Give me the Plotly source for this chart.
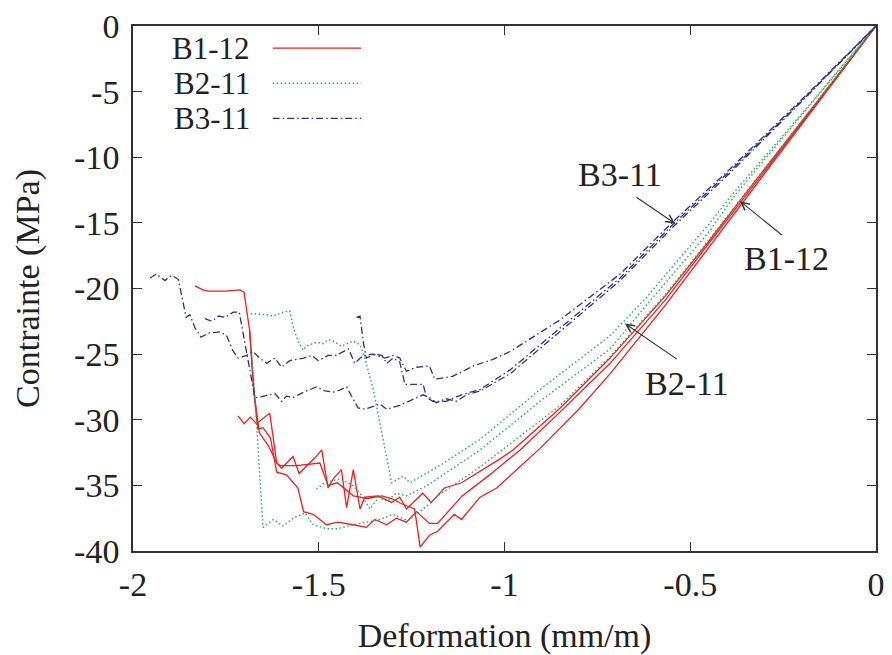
import plotly.graph_objects as go

# ---------------- data ----------------
series_names = ["B1-12", "B2-11", "B3-11"]

# B1-12 (red, solid) - three specimens
b1_12_1_x = [-1.833,-1.812,-1.797,-1.751,-1.712,-1.701,-1.686,-1.672,-1.664,-1.650,-1.630,-1.613,-1.587,-1.556,-1.541,-1.515,-1.479,-1.449,-1.407,-1.372,-1.349,-1.317,-1.291,-1.264,-1.237,-1.202,-1.180,-1.114,-1.040,-0.958,-0.850,-0.716,-0.568,-0.450,-0.366,-0.200,0.0]
b1_12_1_y = [-19.8,-20.1,-20.2,-20.2,-20.1,-20.3,-23.2,-28.6,-30.7,-30.6,-31.4,-34.0,-34.2,-35.2,-37.0,-37.2,-38.0,-37.8,-38.0,-38.2,-37.6,-38.0,-37.5,-37.8,-37.0,-37.9,-37.9,-35.8,-34.2,-32.3,-29.4,-25.7,-20.9,-16.6,-13.5,-7.4,0.0]

b1_12_2_x = [-1.717,-1.701,-1.684,-1.668,-1.632,-1.613,-1.600,-1.569,-1.553,-1.510,-1.492,-1.486,-1.475,-1.461,-1.439,-1.425,-1.407,-1.389,-1.376,-1.340,-1.304,-1.282,-1.264,-1.220,-1.197,-1.162,-1.116,-1.013,-0.977,-0.850,-0.716,-0.568,-0.450,-0.366,-0.200,0.0]
b1_12_2_y = [-29.7,-30.3,-29.8,-30.3,-29.5,-33.3,-33.7,-32.8,-34.1,-32.9,-32.3,-33.3,-35.2,-34.5,-33.8,-36.7,-33.8,-36.8,-35.9,-35.8,-36.3,-35.9,-36.8,-35.6,-36.3,-35.2,-34.8,-33.0,-32.3,-29.1,-25.3,-20.6,-16.4,-13.3,-7.3,0.0]

b1_12_3_x = [-1.686,-1.676,-1.660,-1.635,-1.613,-1.604,-1.559,-1.510,-1.497,-1.475,-1.450,-1.407,-1.370,-1.330,-1.304,-1.277,-1.242,-1.227,-1.202,-1.180,-1.135,-1.116,-1.066,-1.021,-0.905,-0.800,-0.716,-0.568,-0.450,-0.366,-0.200,0.0]
b1_12_3_y = [-23.2,-27.5,-31.0,-32.0,-33.3,-33.5,-33.5,-33.3,-33.3,-35.0,-34.8,-35.8,-36.0,-35.8,-36.0,-36.4,-36.8,-39.7,-38.8,-38.5,-37.2,-37.6,-35.9,-35.2,-32.2,-29.2,-26.5,-21.3,-16.9,-13.7,-7.5,0.0]

# B2-11 (green, dotted)
b2_11_1_x = [-1.694,-1.640,-1.623,-1.596,-1.578,-1.569,-1.556,-1.542,-1.534,-1.506,-1.488,-1.475,-1.461,-1.439,-1.407,-1.389,-1.376,-1.354,-1.326,-1.304,-1.273,-1.255,-1.175,-1.066,-0.900,-0.716,-0.622,-0.450,-0.380,-0.200,0.0]
b2_11_1_y = [-21.9,-22.0,-22.1,-21.8,-21.7,-22.9,-24.0,-24.7,-24.4,-24.1,-24.2,-23.9,-24.0,-24.4,-24.0,-24.3,-25.3,-27.6,-31.6,-34.8,-34.3,-34.8,-33.5,-31.5,-27.6,-23.6,-20.8,-15.1,-12.6,-6.7,0.0]

b2_11_2_x = [-1.683,-1.675,-1.666,-1.659,-1.650,-1.622,-1.596,-1.569,-1.537,-1.515,-1.479,-1.449,-1.407,-1.370,-1.335,-1.300,-1.260,-1.210,-1.175,-1.066,-0.850,-0.716,-0.568,-0.450,-0.366,-0.200,0.0]
b2_11_2_y = [-24.5,-27.0,-31.0,-34.5,-38.2,-37.6,-38.1,-37.5,-37.1,-38.0,-38.3,-38.3,-38.0,-37.8,-37.6,-37.2,-37.7,-36.6,-35.7,-33.6,-28.9,-25.2,-20.5,-16.3,-13.25,-7.25,0.0]

b2_11_3_x = [-1.506,-1.484,-1.443,-1.408,-1.389,-1.362,-1.339,-1.317,-1.291,-1.264,-1.207,-1.175,-1.066,-0.900,-0.716,-0.610,-0.450,-0.380,-0.200,0.0]
b2_11_3_y = [-35.3,-34.8,-34.5,-35.0,-35.6,-36.8,-35.9,-36.2,-35.6,-35.8,-35.0,-34.4,-32.3,-28.5,-24.6,-21.0,-15.7,-12.9,-6.8,0.0]

# B3-11 (blue, dash-dot)
b3_11_1_x = [-1.954,-1.937,-1.914,-1.896,-1.878,-1.857,-1.847,-1.833,-1.817,-1.797,-1.766,-1.748,-1.730,-1.717,-1.694,-1.677,-1.659,-1.640,-1.618,-1.600,-1.578,-1.541,-1.519,-1.501,-1.475,-1.453,-1.420,-1.403,-1.380,-1.354,-1.322,-1.300,-1.282,-1.264,-1.237,-1.202,-1.188,-1.140,-1.084,-1.031,-0.985,-0.851,-0.689,-0.546,-0.393,-0.200,0.0]
b3_11_1_y = [-19.2,-18.9,-19.4,-19.0,-19.3,-22.2,-22.0,-23.0,-23.7,-23.4,-23.3,-23.6,-24.8,-25.3,-25.1,-24.8,-25.3,-25.7,-25.3,-26.0,-25.5,-25.3,-25.1,-25.5,-25.1,-25.1,-24.6,-25.7,-25.1,-25.0,-25.3,-25.1,-25.3,-26.3,-26.0,-25.9,-26.9,-26.7,-25.9,-25.4,-24.8,-22.4,-18.9,-14.9,-10.9,-5.6,0.0]

b3_11_2_x = [-1.806,-1.788,-1.770,-1.752,-1.730,-1.714,-1.703,-1.690,-1.672,-1.664,-1.636,-1.618,-1.600,-1.587,-1.569,-1.541,-1.506,-1.484,-1.457,-1.425,-1.394,-1.376,-1.335,-1.317,-1.282,-1.219,-1.197,-1.184,-1.157,-1.130,-1.102,-1.065,-0.985,-0.851,-0.689,-0.546,-0.393,-0.200,0.0]
b3_11_2_y = [-22.3,-22.5,-22.1,-22.2,-21.8,-21.8,-23.5,-25.5,-28.3,-28.3,-28.1,-28.0,-28.6,-28.2,-28.3,-27.9,-27.5,-27.8,-27.9,-27.5,-29.1,-29.2,-28.8,-29.2,-28.9,-28.1,-28.4,-28.7,-28.4,-28.6,-28.1,-27.8,-26.5,-23.3,-19.4,-15.3,-11.2,-5.75,0.0]

b3_11_3_x = [-1.398,-1.389,-1.380,-1.372,-1.349,-1.330,-1.317,-1.300,-1.282,-1.268,-1.219,-1.210,-1.193,-1.157,-1.116,-1.066,-0.985,-0.851,-0.689,-0.546,-0.393,-0.200,0.0]
b3_11_3_y = [-22.2,-22.1,-24.1,-25.3,-25.0,-25.1,-25.7,-25.3,-25.6,-27.3,-27.3,-28.3,-28.6,-28.6,-28.1,-27.7,-26.2,-23.0,-19.2,-15.1,-11.05,-5.7,0.0]

x_tick_vals = [-2, -1.5, -1, -0.5, 0]
x_tick_text = ["-2", "-1.5", "-1", "-0.5", "0"]
y_tick_vals = [0, -5, -10, -15, -20, -25, -30, -35, -40]
y_tick_text = ["0", "-5", "-10", "-15", "-20", "-25", "-30", "-35", "-40"]

# labels with arrows: (text, text_x, text_y, tail_x, tail_y, tip_x, tip_y)
label_b3 = ["B3-11", -0.689, -11.3, -0.649, -12.97, -0.541, -15.05]
label_b1 = ["B1-12", -0.241, -17.73, -0.2495, -16.02, -0.366, -13.35]
label_b2 = ["B2-11", -0.509, -27.25, -0.532, -25.46, -0.676, -22.67]

# ---------------- styles ----------------
FONT = "'Liberation Serif', 'Times New Roman', Times, serif"
RED = "#f01e1e"
GREEN = "#1fae5a"
BLUE = "#2e2e96"
styles = {
    "B1-12": dict(color=RED, width=1.3, dash="solid"),
    "B2-11": dict(color=GREEN, width=1.4, dash="1.5px,2.5px"),
    "B3-11": dict(color=BLUE, width=1.3, dash="7px,3px,1.5px,3px"),
}

curves = {
    "B1-12": [(b1_12_1_x, b1_12_1_y), (b1_12_2_x, b1_12_2_y), (b1_12_3_x, b1_12_3_y)],
    "B2-11": [(b2_11_1_x, b2_11_1_y), (b2_11_2_x, b2_11_2_y), (b2_11_3_x, b2_11_3_y)],
    "B3-11": [(b3_11_1_x, b3_11_1_y), (b3_11_2_x, b3_11_2_y), (b3_11_3_x, b3_11_3_y)],
}

fig = go.Figure()
for name in series_names:
    for i, (xs, ys) in enumerate(curves[name]):
        fig.add_trace(go.Scatter(
            x=xs, y=ys, mode="lines", name=name, legendgroup=name,
            showlegend=False, line=styles[name], hoverinfo="skip"))

TXT = dict(family=FONT, size=34, color="#222")
KEY_TXT = dict(family=FONT, size=31, color="#222")

annotations = []
for lab in (label_b3, label_b1, label_b2):
    txt, tx, ty, ax, ay, px, py = lab
    annotations.append(dict(x=tx, y=ty, xref="x", yref="y", text=txt, showarrow=False,
                            font=TXT))
    annotations.append(dict(x=px, y=py, xref="x", yref="y", ax=ax, ay=ay,
                            axref="x", ayref="y", text="", showarrow=True,
                            arrowhead=5, arrowsize=1.4, arrowwidth=1.1,
                            arrowcolor="#333"))

# key (gnuplot style: text on the left, sample line on the right)
key_rows = [0.958, 0.891, 0.824]
shapes = []
for name, yy in zip(series_names, key_rows):
    annotations.append(dict(x=0.160, y=yy, xref="paper", yref="paper", text=name,
                            showarrow=False, xanchor="right", yanchor="middle",
                            font=KEY_TXT))
    st = styles[name]
    shapes.append(dict(type="line", xref="paper", yref="paper", x0=0.188, x1=0.307,
                       y0=yy, y1=yy, line=dict(color=st["color"], width=st["width"], dash=st["dash"])))

axis_common = dict(
    showline=True, linecolor="#333", linewidth=1.6, mirror="ticks",
    ticks="inside", ticklen=9, tickwidth=1.3, tickcolor="#333",
    showgrid=False, zeroline=False, automargin=False,
    ticklabeloverflow="allow",
    tickfont=TXT,
)

# the page adds an 8px body margin, so the figure is 8px smaller and margins shifted
fig.update_layout(
    width=884, height=647,
    margin=dict(l=125, r=16, t=18, b=104),
    paper_bgcolor="white", plot_bgcolor="white",
    showlegend=False,
    font=TXT,
    annotations=annotations, shapes=shapes,
    xaxis=dict(range=[-2, 0], tickvals=x_tick_vals, ticktext=x_tick_text,
               ticklabelstandoff=2,
               title=dict(text="Deformation (mm/m)", standoff=22, font=TXT),
               **axis_common),
    yaxis=dict(range=[-40, 0], tickvals=y_tick_vals, ticktext=y_tick_text,
               ticklabelstandoff=5,
               title=dict(text="Contrainte (MPa)", standoff=24, font=TXT),
               **axis_common),
)

fig.write_html("out.html")
